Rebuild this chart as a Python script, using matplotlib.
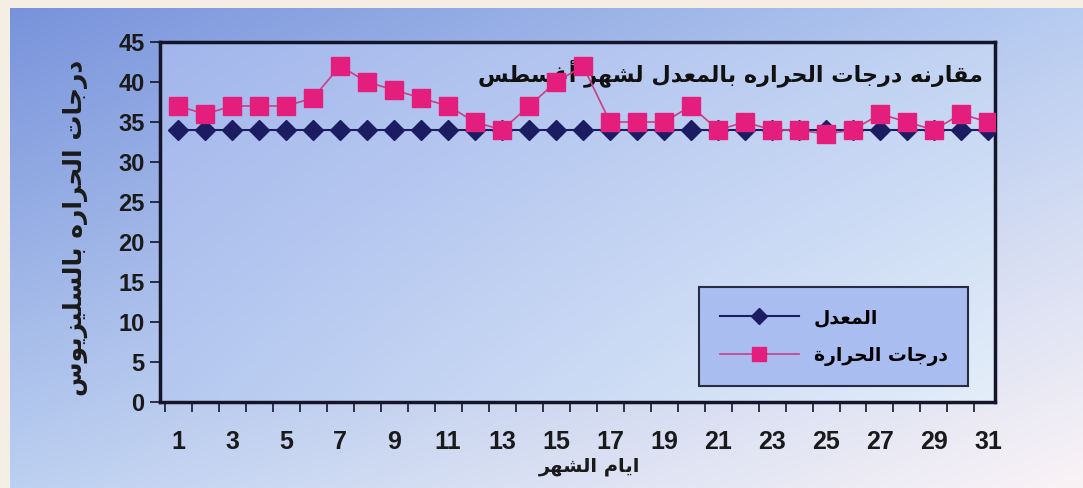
import numpy as np
import matplotlib
matplotlib.use('Agg')
import matplotlib.pyplot as plt
from matplotlib.colors import to_rgb
from matplotlib.ticker import MultipleLocator, FixedLocator

# data
days = list(range(1, 32))
avg_temp = [34] * 31
daily_temp = [37, 36, 37, 37, 37, 38, 42, 40, 39, 38, 37, 35, 34, 37, 40, 42,
              35, 35, 35, 37, 34, 35, 34, 34, 33.5, 34, 36, 35, 34, 36, 35]
xtick_days = list(range(1, 32, 2))

title_txt = 'مقارنه درجات الحراره بالمعدل لشهر أغسطس'
ylabel_txt = 'درجات الحراره بالسليزيوس'
xlabel_txt = 'ايام الشهر'
legend_avg = 'المعدل'
legend_temp = 'درجات الحرارة'

# simple arabic shaping (presentation forms) + visual order,
# matplotlib has no complex text layout
FORMS = {
    'ا': ('\uFE8D', '\uFE8E'), 'أ': ('\uFE83', '\uFE84'),
    'د': ('\uFEA9', '\uFEAA'), 'ر': ('\uFEAD', '\uFEAE'),
    'ز': ('\uFEAF', '\uFEB0'), 'و': ('\uFEED', '\uFEEE'),
    'ة': ('\uFE93', '\uFE94'),
    'ب': ('\uFE8F', '\uFE90', '\uFE91', '\uFE92'),
    'ت': ('\uFE95', '\uFE96', '\uFE97', '\uFE98'),
    'ج': ('\uFE9D', '\uFE9E', '\uFE9F', '\uFEA0'),
    'ح': ('\uFEA1', '\uFEA2', '\uFEA3', '\uFEA4'),
    'س': ('\uFEB1', '\uFEB2', '\uFEB3', '\uFEB4'),
    'ش': ('\uFEB5', '\uFEB6', '\uFEB7', '\uFEB8'),
    'ط': ('\uFEC1', '\uFEC2', '\uFEC3', '\uFEC4'),
    'ع': ('\uFEC9', '\uFECA', '\uFECB', '\uFECC'),
    'غ': ('\uFECD', '\uFECE', '\uFECF', '\uFED0'),
    'ق': ('\uFED5', '\uFED6', '\uFED7', '\uFED8'),
    'ل': ('\uFEDD', '\uFEDE', '\uFEDF', '\uFEE0'),
    'م': ('\uFEE1', '\uFEE2', '\uFEE3', '\uFEE4'),
    'ن': ('\uFEE5', '\uFEE6', '\uFEE7', '\uFEE8'),
    'ه': ('\uFEE9', '\uFEEA', '\uFEEB', '\uFEEC'),
    'ي': ('\uFEF1', '\uFEF2', '\uFEF3', '\uFEF4'),
}


def shape(s):
    out = []
    for i, c in enumerate(s):
        if c not in FORMS:
            out.append(c)
            continue
        prev = s[i - 1] if i > 0 else ''
        nxt = s[i + 1] if i + 1 < len(s) else ''
        join_prev = prev in FORMS and len(FORMS[prev]) == 4
        join_next = len(FORMS[c]) == 4 and nxt in FORMS
        f = FORMS[c]
        if join_prev and join_next:
            out.append(f[3])
        elif join_prev:
            out.append(f[1])
        elif join_next:
            out.append(f[2])
        else:
            out.append(f[0])
    return ''.join(out)[::-1]


def gradient(c_tl, c_tr, c_bl, c_br, n=200):
    t = np.linspace(0, 1, n)
    u, v = np.meshgrid(t, t)
    img = np.zeros((n, n, 3))
    for k in range(3):
        img[..., k] = (to_rgb(c_tl)[k] * (1 - u) * (1 - v) + to_rgb(c_tr)[k] * u * (1 - v)
                       + to_rgb(c_bl)[k] * (1 - u) * v + to_rgb(c_br)[k] * u * v)
    return img


ar_font = ['DejaVu Sans']
num_font = ['Liberation Sans', 'DejaVu Sans']

fig = plt.figure(figsize=(10.83, 4.88), dpi=100)
fig.patch.set_facecolor('#f4eee4')

# background panel
bg = fig.add_axes([10 / 1083, 0, 1 - 10 / 1083, 1 - 8 / 488], zorder=-10)
bg.imshow(gradient('#7893db', '#b7ccf1', '#bcd0f1', '#faf3f6'), aspect='auto',
          extent=[0, 1, 0, 1], interpolation='bilinear')
bg.set_axis_off()

ax = fig.add_axes([160 / 1083, 1 - 402 / 488, 835 / 1083, 360 / 488])
ax.imshow(gradient('#a3b6ec', '#c2d4f3', '#b5c9f0', '#e4eef9'), aspect='auto',
          extent=[0.33, 31.26, 0, 45], interpolation='bilinear', zorder=0)
ax.set_xlim(0.33, 31.26)
ax.set_ylim(0, 45)

ax.plot(days, avg_temp, color='#1c1c62', lw=1.5, marker='D', ms=10,
        mfc='#1c1c62', mec='#1c1c62', zorder=3, label=shape(legend_avg))
ax.plot(days, daily_temp, color='#c93f86', lw=1.2, marker='s', ms=13,
        mfc='#e41e7c', mec='#e41e7c', zorder=4, label=shape(legend_temp))

ax.text(0.985, 0.915, shape(title_txt), transform=ax.transAxes, ha='right', va='center',
        fontsize=16, fontweight='bold', family=ar_font, color='#111111', zorder=2)

for sp in ax.spines.values():
    sp.set_linewidth(2.5)
    sp.set_color('#15152a')

ax.yaxis.set_major_locator(MultipleLocator(5))
ax.xaxis.set_major_locator(FixedLocator(xtick_days))
ax.xaxis.set_minor_locator(FixedLocator([d + 0.5 for d in range(0, 31)]))
ax.tick_params(axis='x', which='major', length=0, pad=20)
ax.tick_params(axis='x', which='minor', length=7, width=1.2, color='#15152a')
ax.tick_params(axis='y', length=7, width=1.2, color='#15152a', pad=4)
for lab in ax.get_xticklabels():
    lab.set_family(['Liberation Sans Narrow', 'Liberation Sans'])
    lab.set_fontweight('bold')
    lab.set_fontsize(18)
    lab.set_color('#1a1a1a')
for lab in ax.get_yticklabels():
    lab.set_family(num_font)
    lab.set_fontweight('bold')
    lab.set_fontsize(17)
    lab.set_color('#1a1a1a')

fig.text(75 / 1083, 1 - 228 / 488, shape(ylabel_txt), rotation=90, ha='center', va='center',
         fontsize=18, fontweight='bold', family=ar_font, color='#1a1a1a')
fig.text(590 / 1083, 1 - 467 / 488, shape(xlabel_txt), ha='center', va='center',
         fontsize=14, fontweight='bold', family=ar_font, color='#1a1a1a')

leg = ax.legend(loc='lower right', bbox_to_anchor=(0.968, 0.044), frameon=True,
                fancybox=False, borderpad=1.1, handlelength=4.2, labelspacing=1.0,
                handletextpad=0.8, borderaxespad=0, markerscale=0.8,
                prop={'family': ar_font, 'weight': 'bold', 'size': 13.5})
frame = leg.get_frame()
frame.set_facecolor('#a9bdf0')
frame.set_edgecolor('#2a2a40')
frame.set_linewidth(1.5)
frame.set_alpha(1)

fig.savefig('out.png', dpi=100, facecolor=fig.get_facecolor())
